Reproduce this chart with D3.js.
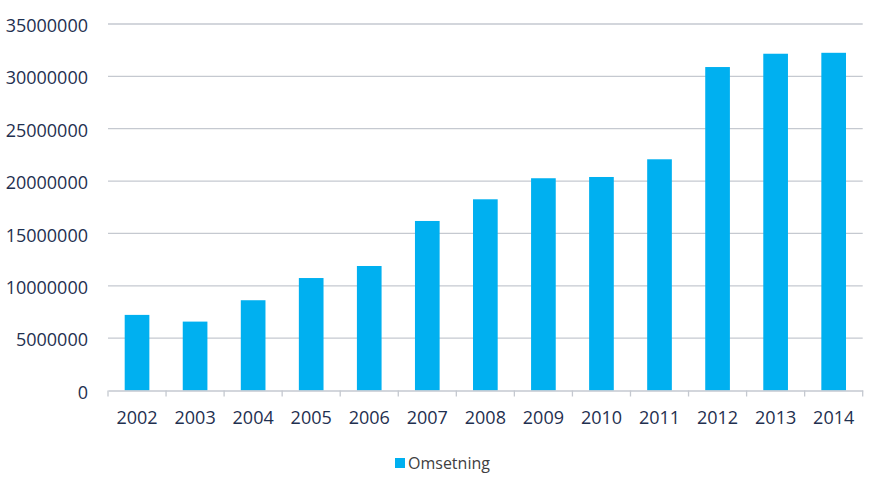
<!DOCTYPE html>
<html><head><meta charset="utf-8">
<script src="https://cdn.jsdelivr.net/npm/d3@7"></script>
<style>body{margin:0;background:#fff}svg{display:block}</style>
</head><body>
<svg id="c" width="884" height="494"></svg>
<script>
const years = ["2002","2003","2004","2005","2006","2007","2008","2009","2010","2011","2012","2013","2014"];
const omsetning = [7220000,6580000,8620000,10740000,11890000,16190000,18260000,20270000,20390000,22080000,30890000,32160000,32250000];
const yTicks = [0,5000000,10000000,15000000,20000000,25000000,30000000,35000000];
const seriesName = "Omsetning";

(function(){
const svg = d3.select("#c");
const pLeft = 108, pRight = 862.7, pTop = 24, pBottom = 390.5;
const x = d3.scaleBand().domain(years).range([pLeft, pRight]).padding(0);
const y = d3.scaleLinear().domain([0, 35000000]).range([pBottom, pTop]);
const textCol = "#1f3050";
const font = "'Open Sans', sans-serif";

// gridlines
svg.append("g").selectAll("line").data(yTicks.filter(d => d > 0)).join("line")
  .attr("x1", pLeft).attr("x2", pRight)
  .attr("y1", d => y(d)).attr("y2", d => y(d))
  .attr("stroke", "#c5c9d0").attr("stroke-width", 1.3);

// y labels
svg.append("g").selectAll("text").data(yTicks).join("text")
  .attr("x", 88).attr("y", d => y(d)).attr("dy", "0.45em")
  .attr("text-anchor", "end").attr("font-family", font).attr("font-size", 18)
  .attr("fill", textCol).text(d => d);

// bars
const bw = x.step() * 0.425;
svg.append("g").selectAll("rect").data(omsetning).join("rect")
  .attr("x", (d, i) => x(years[i]) + (x.step() - bw) / 2)
  .attr("width", bw)
  .attr("y", d => y(d)).attr("height", d => pBottom - y(d))
  .attr("fill", "#00b0f0");

// x axis
const xa = svg.append("g").attr("transform", `translate(0,${pBottom})`)
  .call(d3.axisBottom(x).tickSize(0).tickPadding(21));
xa.select(".domain").attr("stroke", "#c5c9d0").attr("stroke-width", 1.3);
xa.selectAll("text").attr("font-family", font).attr("font-size", 18).attr("fill", textCol);
svg.append("g").selectAll("line").data(d3.range(years.length + 1)).join("line")
  .attr("x1", i => pLeft + i * x.step()).attr("x2", i => pLeft + i * x.step())
  .attr("y1", pBottom).attr("y2", pBottom + 6)
  .attr("stroke", "#c5c9d0").attr("stroke-width", 1.3);

// legend
const lg = svg.append("g").attr("transform", "translate(395,458)");
lg.append("rect").attr("width", 10).attr("height", 10).attr("fill", "#00b0f0");
lg.append("text").attr("x", 13).attr("y", 5).attr("dy", "0.4em")
  .attr("font-family", font).attr("font-size", 16).attr("fill", "#404040").text(seriesName);
})();
</script>
</body></html>
